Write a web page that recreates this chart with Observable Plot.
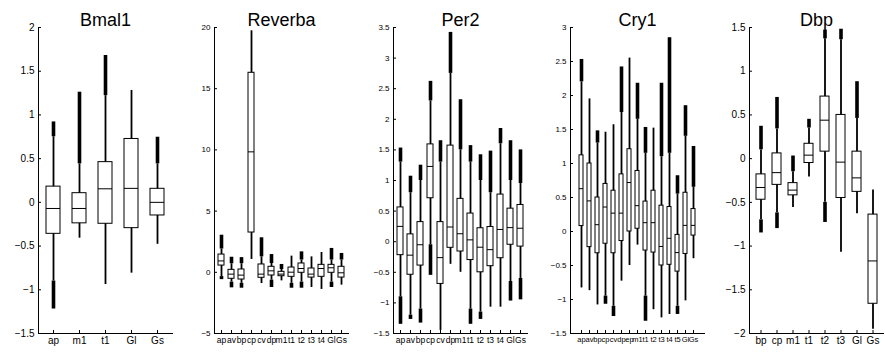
<!DOCTYPE html>
<html><head><meta charset="utf-8">
<script src="https://cdn.jsdelivr.net/npm/d3@7"></script>
<script src="https://cdn.jsdelivr.net/npm/@observablehq/plot@0.6"></script>
<style>
body{margin:0;background:#fff}
#wrap{position:relative;width:885px;height:356px;overflow:hidden;background:#fff}
#wrap svg{position:absolute;top:0}
</style>
</head><body><div id="wrap"></div>
<script>
// ---- Bmal1 ----
const bmal1Cats = ["ap","m1","t1","Gl","Gs"];
const bmal1Lo   = [-1.22,-0.41,-0.94,-0.81,-0.48];
const bmal1WLo  = [-0.90,-0.41,-0.94,-0.81,-0.48];
const bmal1Q1   = [-0.36,-0.24,-0.245,-0.295,-0.15];
const bmal1Med  = [-0.07,-0.07,0.155,0.16,0.0];
const bmal1Q3   = [0.18,0.105,0.46,0.725,0.155];
const bmal1WHi  = [0.75,0.44,1.22,1.28,0.44];
const bmal1Hi   = [0.92,1.26,1.68,1.28,0.745];
const bmal1YTicks = [-1.5,-1,-0.5,0,0.5,1,1.5,2];

// ---- Reverba ----
const revCats = ["ap","av","bp","cp","cv","dp","m1","t1","t2","t3","t4","Gl","Gs"];
const revLo   = [-0.6,-1.27,-1.3,1.05,-0.92,-1.24,-0.7,-1.3,-1.3,-1.24,-1.4,-1.24,-1.05];
const revWLo  = [-0.35,-0.8,-0.9,1.05,-0.92,-0.64,-0.7,-0.9,-0.8,-1.24,-1.4,-0.8,-1.05];
const revQ1   = [0.55,-0.53,-0.59,3.25,-0.45,-0.26,-0.32,-0.37,-0.04,-0.43,-0.37,-0.04,-0.43];
const revMed  = [0.93,-0.15,-0.23,9.84,-0.15,0.12,-0.15,0.01,0.31,-0.15,0.31,0.37,-0.04];
const revQ3   = [1.45,0.2,0.23,16.3,0.64,0.45,0.04,0.39,0.72,0.31,0.61,0.61,0.45];
const revWHi  = [1.9,0.7,0.7,19.73,1.26,0.72,0.23,1.32,1.0,1.26,1.62,1.0,1.0];
const revHi   = [3.03,1.23,1.2,19.73,2.82,1.45,0.64,1.32,1.67,1.26,1.62,1.95,1.54];
const revYTicks = [-5,0,5,10,15,20];

// ---- Per2 ----
const per2Cats = ["ap","av","bp","cp","cv","dp","m1","t1","t2","t3","t4","Gl","Gs"];
const per2Lo   = [-1.35,-1.27,-1.33,-0.55,-1.45,-0.37,-0.5,-1.35,-1.27,-1.07,-1.07,-0.97,-0.95];
const per2WLo  = [-0.9,-1.2,-1.1,-0.05,-1.45,-0.37,-0.5,-1.1,-1.15,-1.07,-1.07,-0.65,-0.6];
const per2Q1   = [-0.22,-0.54,-0.39,0.71,-0.69,-0.1,-0.16,-0.3,-0.5,-0.4,-0.27,-0.05,-0.08];
const per2Med  = [0.25,-0.22,-0.05,1.23,-0.26,0.24,0.13,0.03,-0.09,-0.13,0.2,0.23,0.22];
const per2Q3   = [0.56,0.12,0.32,1.59,0.32,1.57,0.7,0.46,0.22,0.24,0.77,0.54,0.6];
const per2WHi  = [1.3,0.8,1.0,2.3,1.3,2.75,1.5,1.3,1.0,0.8,1.6,1.0,0.95];
const per2Hi   = [1.53,1.07,1.25,2.62,1.65,3.42,2.32,1.57,1.42,1.48,1.85,1.65,1.5];
const per2YTicks = [-1.5,-1,-0.5,0,0.5,1,1.5,2,2.5,3,3.5];

// ---- Cry1 ----
const cry1Cats = ["ap","av","bp","cp","cv","dp","ep","m1","t1","t2","t3","t4","t5","Gl","Gs"];
const cry1Lo   = [-0.83,-0.87,-1.08,-1.07,-1.25,-0.73,-0.5,-0.2,-1.32,-1.15,-1.27,-1.22,-1.22,-1.02,-0.4];
const cry1WLo  = [-0.83,-0.87,-1.08,-0.95,-1.1,-0.73,-0.5,-0.2,-0.95,-1.15,-1.27,-1.22,-1.1,-1.02,-0.4];
const cry1Q1   = [0.08,-0.23,-0.32,-0.18,-0.32,-0.14,0.0,0.04,-0.28,-0.31,-0.5,-0.49,-0.59,-0.33,-0.06];
const cry1Med  = [0.63,0.45,0.1,0.36,0.27,0.27,0.72,0.38,0.13,0.13,-0.22,-0.1,-0.31,0.09,0.09];
const cry1Q3   = [1.12,1.0,0.5,0.7,0.6,0.84,1.21,0.89,0.44,0.6,0.38,0.36,-0.05,0.57,0.33];
const cry1WHi  = [2.2,1.95,1.3,1.46,1.57,1.75,2.55,1.65,1.15,1.52,1.1,1.15,0.55,1.4,0.65];
const cry1Hi   = [2.53,1.95,1.48,1.46,1.57,2.42,2.55,2.18,1.53,1.52,2.18,2.85,0.82,1.85,1.25];
const cry1YTicks = [-1.5,-1,-0.5,0,0.5,1,1.5,2,2.5,3];

// ---- Dbp ----
const dbpCats = ["bp","cp","m1","t1","t2","t3","Gl","Gs"];
const dbpLo   = [-0.85,-0.8,-0.56,-0.21,-0.73,-1.07,-0.63,-1.95];
const dbpWLo  = [-0.7,-0.62,-0.56,-0.21,-0.5,-1.07,-0.63,-1.95];
const dbpQ1   = [-0.47,-0.3,-0.42,-0.05,0.08,-0.45,-0.38,-1.66];
const dbpMed  = [-0.33,-0.16,-0.36,0.04,0.44,-0.04,-0.22,-1.17];
const dbpQ3   = [-0.18,0.06,-0.28,0.17,0.71,0.5,0.08,-0.64];
const dbpWHi  = [0.1,0.34,-0.15,0.35,1.37,1.36,0.46,-0.36];
const dbpHi   = [0.37,0.7,0.03,0.45,1.47,1.48,0.88,-0.36];
const dbpYTicks = [-2,-1.5,-1,-0.5,0,0.5,1,1.5];

const wrap = document.getElementById("wrap");
const fmt = d => (d < 0 ? "\u2212" : "") + Math.abs(d);
const FONT = "'Liberation Sans', Arial, Helvetica, sans-serif";

function panel(o) {
  const rows = o.cats.map((c, i) => ({c, lo: o.lo[i], wlo: o.wlo[i], q1: o.q1[i], med: o.med[i], q3: o.q3[i], whi: o.whi[i], hi: o.hi[i]}));
  const chart = Plot.plot({
    width: 166, height: 356,
    marginLeft: 30, marginRight: 2, marginTop: 27, marginBottom: 23,
    style: {fontFamily: FONT, background: "white", color: "black", overflow: "visible"},
    x: {type: "band", domain: o.cats, paddingInner: 0.45, paddingOuter: 0.225, label: null},
    y: {domain: o.yDomain, label: null},
    marks: [
      Plot.ruleX(rows, {x: "c", y1: "wlo", y2: "whi", stroke: "black", strokeWidth: 1.8}),
      Plot.ruleX(rows.filter(d => d.lo < d.wlo), {x: "c", y1: "lo", y2: "wlo", stroke: "black", strokeWidth: 3.6}),
      Plot.ruleX(rows.filter(d => d.hi > d.whi), {x: "c", y1: "whi", y2: "hi", stroke: "black", strokeWidth: 3.6}),
      Plot.barY(rows, {x: "c", y1: "q1", y2: "q3", fill: "white", stroke: "black", strokeWidth: 1}),
      Plot.tickY(rows, {x: "c", y: "med", stroke: "black", strokeWidth: 1}),
      Plot.frame({anchor: "left", stroke: "black"}),
      Plot.frame({anchor: "bottom", stroke: "black"}),
      Plot.axisY({ticks: o.yTicks, tickSize: -3, tickPadding: 7, tickFormat: fmt, fontSize: o.yFont, label: null}),
      Plot.axisX({tickSize: -3, tickPadding: 6, fontSize: o.xFont, label: null}),
      Plot.text([o.title], {frameAnchor: "top", dy: -14, fontSize: 18, text: d => d, fill: "black"})
    ]
  });
  chart.style.left = o.left + "px";
  wrap.appendChild(chart);
}

panel({title: "Bmal1", cats: bmal1Cats, lo: bmal1Lo, wlo: bmal1WLo, q1: bmal1Q1, med: bmal1Med, q3: bmal1Q3, whi: bmal1WHi, hi: bmal1Hi, yDomain: [-1.5, 2], yTicks: bmal1YTicks, left: 8, yFont: 10, xFont: 10});
panel({title: "Reverba", cats: revCats, lo: revLo, wlo: revWLo, q1: revQ1, med: revMed, q3: revQ3, whi: revWHi, hi: revHi, yDomain: [-5, 20], yTicks: revYTicks, left: 184, yFont: 8, xFont: 8.5});
panel({title: "Per2", cats: per2Cats, lo: per2Lo, wlo: per2WLo, q1: per2Q1, med: per2Med, q3: per2Q3, whi: per2WHi, hi: per2Hi, yDomain: [-1.5, 3.5], yTicks: per2YTicks, left: 363, yFont: 8, xFont: 8.5});
panel({title: "Cry1", cats: cry1Cats, lo: cry1Lo, wlo: cry1WLo, q1: cry1Q1, med: cry1Med, q3: cry1Q3, whi: cry1WHi, hi: cry1Hi, yDomain: [-1.5, 3], yTicks: cry1YTicks, left: 540, yFont: 8, xFont: 7.5});
panel({title: "Dbp", cats: dbpCats, lo: dbpLo, wlo: dbpWLo, q1: dbpQ1, med: dbpMed, q3: dbpQ3, whi: dbpWHi, hi: dbpHi, yDomain: [-2, 1.5], yTicks: dbpYTicks, left: 719, yFont: 10, xFont: 10});
</script>
</body></html>
